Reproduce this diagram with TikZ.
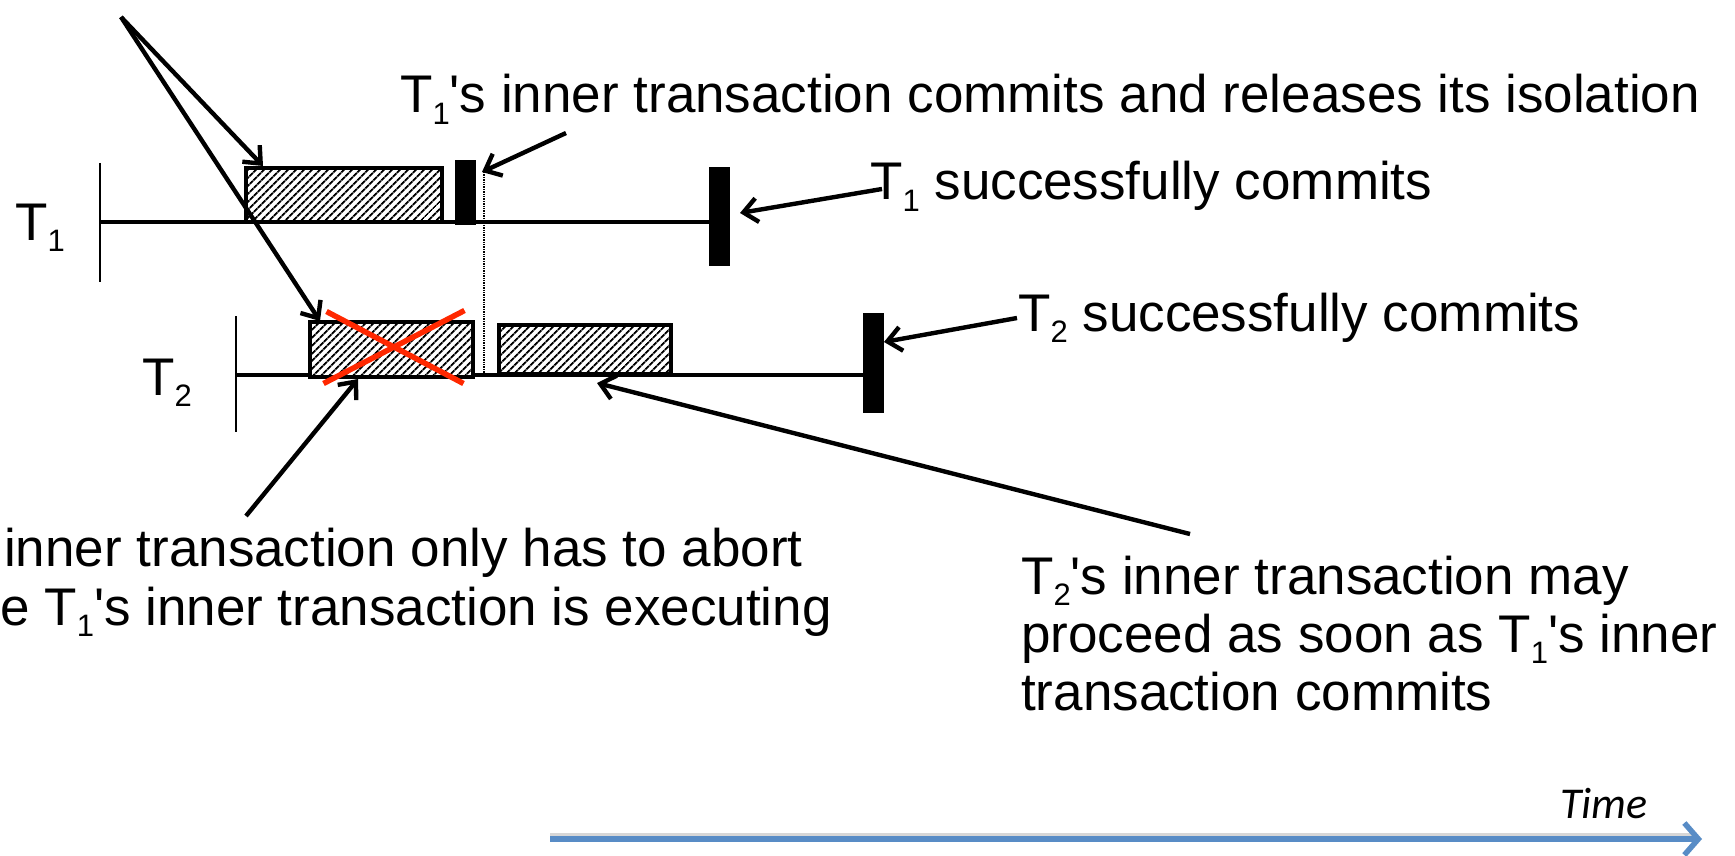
\documentclass[tikz,border=0pt]{standalone}
\usepackage{fontspec}
\setmainfont{Liberation Sans}
\newfontfamily\timefont{Carlito}
\usetikzlibrary{arrows.meta,patterns.meta}

% lowered index digit, as in T_1
\newcommand\lowix[1]{\raisebox{-0.22em}{\fontsize{31}{31}\selectfont #1}}
\newcommand\apos{\textquotesingle}

\begin{document}
\begin{tikzpicture}[x=1pt,y=-1pt,
  lbl/.style={inner sep=0pt, anchor=base west, font=\fontsize{53}{60}\selectfont},
  axis/.style={line width=4pt},
  tick/.style={line width=2.4pt},
  work/.style={draw, line width=3.2pt, inner sep=0pt, fill=white,
    postaction={pattern={Lines[angle=45,distance=5.4pt,line width=2pt]}}},
  bar/.style={fill=black, draw=none, inner sep=0pt, minimum width=21pt},
  ptr/.style={line width=4.4pt, -{Straight Barb[length=14pt,width=24pt]}},
  cross/.style={line width=5.5pt, draw={rgb,255:red,255;green,40;blue,0}},
]
\useasboundingbox (0,0) rectangle (1735,856);

% ---- time lines of the two transactions
\coordinate (t1s) at (100,222);
\coordinate (t2s) at (236,375);
\draw[tick] (100,163) -- (100,282);
\draw[tick] (236,316) -- (236,432);

% commit marks
\node[bar, minimum height=65pt] (ic1) at (465,192.5) {};
\node[bar, minimum height=99pt] (c1) at (719,216.5) {};
\node[bar, minimum height=100pt] (c2) at (873,363) {};

\draw[axis] (t1s) -- (t1s -| c1.center);
\draw[axis] (t2s) -- (t2s -| c2.center);

% work blocks
\node[work, minimum width=196pt, minimum height=54pt] (box1) at (344,195) {};
\node[work, minimum width=163pt, minimum height=55pt] (xbox) at (391.5,349.5) {};
\node[work, minimum width=172pt, minimum height=49pt] (box2) at (585,349.5) {};

% moment the inner transaction of T1 commits
\draw[line width=1.4pt, densely dotted] (484,172) -- (484,374);

% ---- labels
\node[lbl] (l1) at (15,240) {T\lowix{1}};
\node[lbl] (l2) at (142,395) {T\lowix{2}};
\node[lbl] (top) at (400,113) {T\lowix{1}\apos s inner transaction commits and releases its isolation};
\node[lbl] (s1) at (870,200) {T\lowix{1} successfully commits};
\node[lbl] (s2) at (1018,331) {T\lowix{2} successfully commits};
\node[lbl] (ab1) at (4,566) {inner transaction only has to abort};
\node[lbl] (ab2) at (0,625) {e T\lowix{1}\apos s inner transaction is executing};
\node[lbl] (pr1) at (1021,594) {T\lowix{2}\apos s inner transaction may};
\node[lbl] (pr2) at (1021,652) {proceed as soon as T\lowix{1}\apos s inner};
\node[lbl] (pr3) at (1021,710) {transaction commits};

% ---- pointers
\coordinate (apex) at (121,17);
\coordinate (p1) at (263,166);
\coordinate (p2) at (320,321);
\coordinate (q1) at (566,133);
\coordinate (q2) at (482,172);
\coordinate (r1) at (882,189);
\coordinate (r2) at (740,213);
\coordinate (u1) at (1017,318);
\coordinate (u2) at (884,342);
\coordinate (v1) at (246,516);
\coordinate (v2) at (358,379);
\coordinate (w1) at (1190,534);
\coordinate (w2) at (597,383);
\draw[ptr] (apex) -- (p1);
\draw[ptr] (apex) -- (p2);
\draw[ptr] (q1) -- (q2);
\draw[ptr] (r1) -- (r2);
\draw[ptr] (u1) -- (u2);
\draw[ptr] (v1) -- (v2);
\draw[ptr] (w1) -- (w2);

% aborted block
\draw[cross] (xbox.center) ++(-65,-38) coordinate (xa) -- ++(137,72) coordinate (xb);
\draw[cross] (xbox.center) ++(-68,34) coordinate (xc) -- ++(141,-73) coordinate (xd);

% ---- time axis
\coordinate (ta) at (550,839);
\coordinate (tb) at (1702,839);
\draw[line width=6.5pt, black!35, opacity=0.45] ([yshift=3pt]ta) -- ([xshift=-6pt,yshift=3pt]tb);
\draw[line width=6.5pt, draw={rgb,255:red,88;green,140;blue,198},
  -{Straight Barb[length=14pt,width=32pt,line width=5.5pt]}] (ta) -- (tb);
\node[inner sep=0pt, anchor=base west, font=\timefont\itshape\fontsize{44}{50}\selectfont] (time) at (1560,818) {Time};
\end{tikzpicture}
\end{document}
